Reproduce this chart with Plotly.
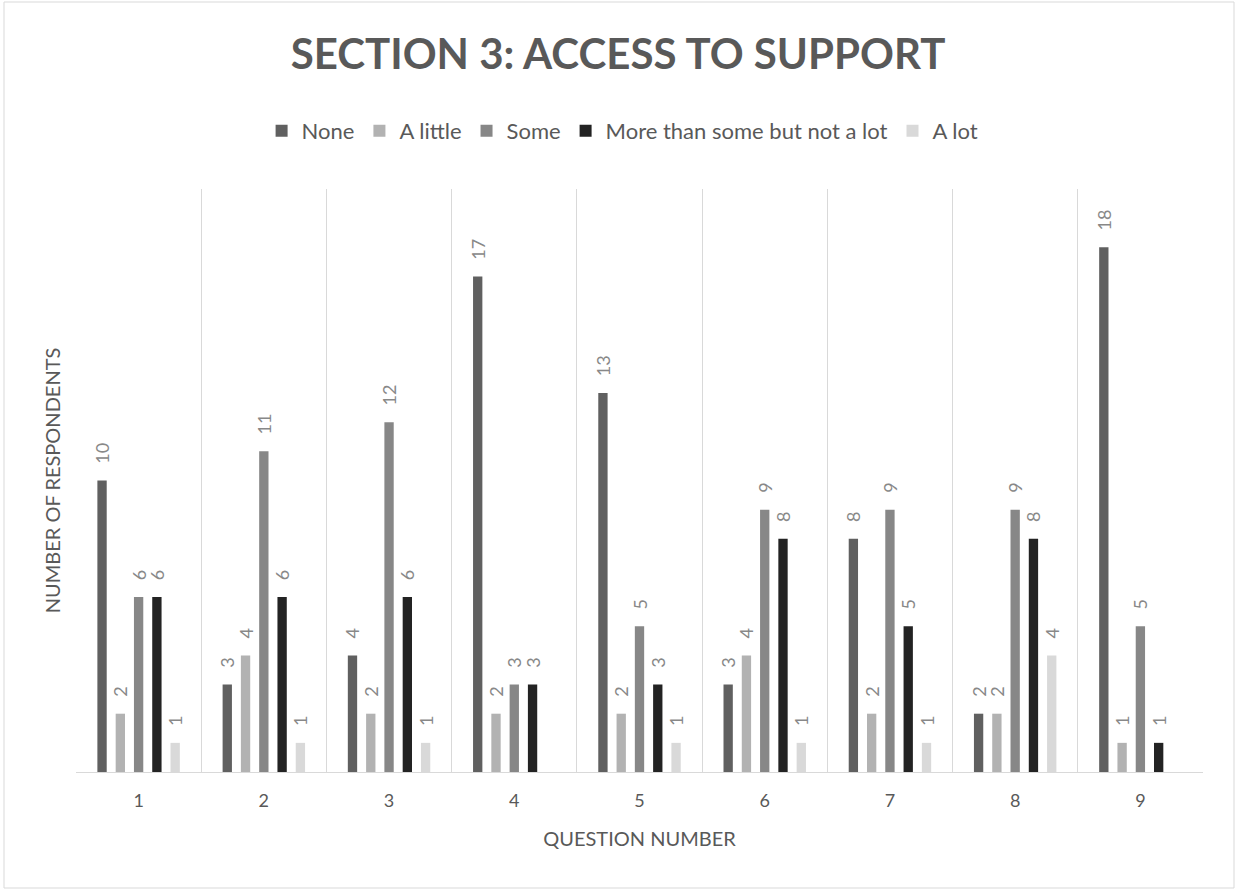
import plotly.graph_objects as go

questions = ["1", "2", "3", "4", "5", "6", "7", "8", "9"]
series_names = ["None", "A little", "Some", "More than some but not a lot", "A lot"]
none_vals = [10, 3, 4, 17, 13, 3, 8, 2, 18]
a_little_vals = [2, 4, 2, 2, 2, 4, 2, 2, 1]
some_vals = [6, 11, 12, 3, 5, 9, 9, 9, 5]
more_vals = [6, 6, 6, 3, 3, 8, 5, 8, 1]
a_lot_vals = [1, 1, 1, None, 1, 1, 1, 4, None]
series_values = [none_vals, a_little_vals, some_vals, more_vals, a_lot_vals]
colors = ["#606060", "#b2b2b2", "#878787", "#232323", "#d9d9d9"]

W, H = 1236, 890
L, R, T, B = 76, 1203, 189, 772

fig = go.Figure()
for name, vals, col in zip(series_names, series_values, colors):
    fig.add_trace(go.Bar(
        name=name, x=questions, y=vals, marker_color=col,
        marker_line_width=0,
        text=[("\u00a0\u00a0\u00a0" + str(v)) if v is not None else "" for v in vals],
        textposition="outside", textangle=-90, constraintext="none",
        cliponaxis=False,
        textfont=dict(family="Lato", size=18, color="#888888"),
        hoverinfo="skip",
    ))

def px_x(p):
    return (p - L) / (R - L)

def px_y(p):
    return (B - p) / (B - T)

fig.add_shape(type="rect", xref="paper", yref="paper",
              x0=px_x(4), x1=px_x(1234), y0=px_y(888), y1=px_y(2),
              line=dict(color="#d9d9d9", width=1), fillcolor="rgba(0,0,0,0)",
              layer="below")

fig.update_layout(
    width=W, height=H,
    margin=dict(l=L, r=W - R, t=T, b=H - B, autoexpand=False),
    paper_bgcolor="white", plot_bgcolor="white",
    barmode="group", bargap=0.27, bargroupgap=0.49,
    title=dict(text="<b>SECTION 3: ACCESS TO SUPPORT</b>",
               font=dict(family="Lato", size=42, color="#595959"),
               x=0.5, xref="container", xanchor="center",
               y=1 - 54 / H, yref="container", yanchor="middle"),
    legend=dict(orientation="h", x=0.485, xanchor="center",
                y=1 - 131 / H, yref="container", yanchor="middle",
                font=dict(family="Lato", size=22, color="#595959"),
                traceorder="normal", itemclick=False),
    font=dict(family="Lato", color="#595959"),
)
fig.update_xaxes(
    type="category", tickson="boundaries", showgrid=True, gridcolor="#d9d9d9",
    gridwidth=1, showline=True, linecolor="#d9d9d9", linewidth=1, ticks="",
    ticklabelstandoff=12,
    tickfont=dict(family="Lato", size=18, color="#595959"),
    title=dict(text="QUESTION NUMBER", font=dict(family="Lato", size=20, color="#595959"),
               standoff=22),
    automargin=False,
)
fig.update_yaxes(
    range=[0, 20], showgrid=False, showticklabels=False, ticks="", showline=False,
    zeroline=False,
    title=dict(text="NUMBER OF RESPONDENTS", font=dict(family="Lato", size=20, color="#595959"),
               standoff=9),
    automargin=False,
)

fig.write_html("out.html")
